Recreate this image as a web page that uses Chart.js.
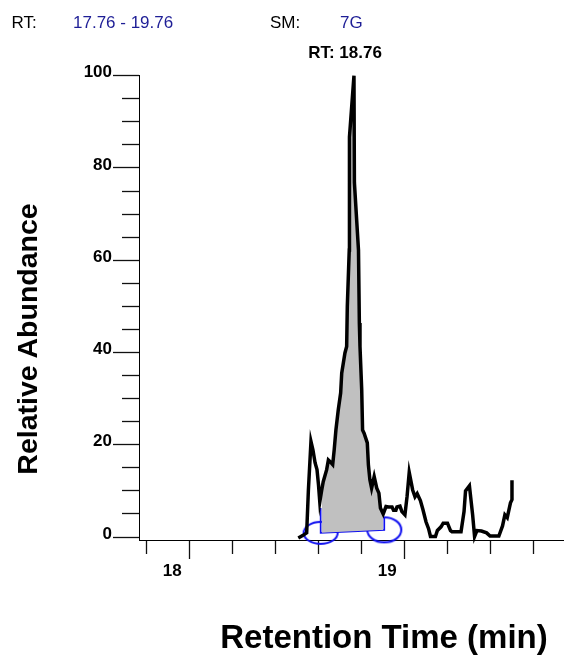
<!DOCTYPE html>
<html>
<head>
<meta charset="utf-8">
<script src="https://cdn.jsdelivr.net/npm/chart.js@4.4.1/dist/chart.umd.min.js"></script>
<style>
  html, body { margin: 0; padding: 0; background: #fff; }
  #wrap { position: relative; width: 564px; height: 659px; overflow: hidden; font-family: "Liberation Sans", Arial, sans-serif; }
  #chart { position: absolute; left: 0; top: 0; }
  .t { position: absolute; white-space: nowrap; line-height: 1; }
  .hdr { font-size: 17px; color: #000; }
  .blue { color: #1e1e96; }
</style>
</head>
<body>
<div id="wrap">
  <canvas id="chart" width="564" height="659"></canvas>
  <div class="t hdr" style="left:11.5px; top:14px;">RT:</div>
  <div class="t hdr blue" style="left:73px; top:14px;">17.76 - 19.76</div>
  <div class="t hdr" style="left:270px; top:14px;">SM:</div>
  <div class="t hdr blue" style="left:340px; top:14px;">7G</div>
  <div class="t" style="left:245px; top:44px; width:200px; text-align:center; font-size:17px; font-weight:bold;">RT: 18.76</div>
  <div class="t" style="left:-123px; top:325px; width:300px; height:28px; text-align:center; font-size:28.5px; line-height:28px; font-weight:bold; transform:rotate(-90deg);">Relative Abundance</div>
  <div class="t" style="left:184px; top:620px; width:400px; text-align:center; font-size:33px; font-weight:bold;">Retention Time (min)</div>
</div>
<script>
// ---- data ----
const times = [18.507, 18.527, 18.546, 18.554, 18.566, 18.575, 18.585, 18.594, 18.601, 18.607,
  18.616, 18.623, 18.639, 18.647, 18.654, 18.667, 18.674, 18.682, 18.693, 18.704,
  18.709, 18.724, 18.732, 18.735, 18.744, 18.745, 18.766, 18.768, 18.787, 18.791,
  18.794, 18.802, 18.806, 18.813, 18.828, 18.833, 18.840, 18.848, 18.860, 18.872,
  18.882, 18.889, 18.902, 18.915, 18.927, 18.943, 18.950, 18.961, 18.966, 18.980,
  18.989, 19.003, 19.013, 19.023, 19.039, 19.050, 19.060, 19.075, 19.087, 19.101,
  19.113, 19.122, 19.145, 19.154, 19.171, 19.181, 19.201, 19.215, 19.222, 19.264,
  19.278, 19.285, 19.303, 19.318, 19.327, 19.338, 19.359, 19.383, 19.399, 19.440,
  19.457, 19.468, 19.479, 19.494, 19.501, 19.501];
const abundance = [-0.2, 0.3, 0.9, 10.2, 20.7, 18.9, 16.1, 14.6, 11.3, 7.6,
  10.2, 12.0, 14.6, 16.7, 16.4, 15.7, 18.9, 23.2, 27.6, 31.2,
  35.5, 39.9, 41.3, 50.0, 62.2, 86.7, 100, 76.8, 62.2, 46.4,
  41.3, 31.9, 23.2, 22.5, 20.4, 15.7, 12.4, 10.6, 13.1, 10.6,
  9.5, 6.3, 5.0, 6.6, 6.5, 6.5, 5.8, 5.8, 6.5, 6.7,
  5.5, 4.8, 8.8, 14.0, 10.2, 8.7, 9.4, 7.9, 5.9, 3.3,
  1.8, 0.1, 0.1, 1.4, 2.2, 3.0, 3.0, 1.4, 1.15, 1.15,
  5.5, 10.0, 11.1, 4.8, 0.1, 1.4, 1.3, 0.9, 0.2, 0.2,
  2.4, 4.8, 4.2, 7.4, 8.1, 12.3];
// integration of the labelled peak: boundary times and baseline levels
const peakBounds = [18.611, 18.907];
const baselineLevels = [0.9, 1.55];
const boundaryTops = [6.3, 4.1];
// axis ranges / ticks
const xRange = [17.766, 19.743];
const yRange = [-0.65, 100];
const xStep = 0.2;
const yStep = 5;
const yLabelEvery = 20;

// ---- build chart ----
const trace = times.map((t, i) => ({x: t, y: abundance[i]}));
const peakArea = trace.filter(p => p.x >= peakBounds[0] && p.x <= peakBounds[1]);
const baseline = peakBounds.map((t, i) => ({x: t, y: baselineLevels[i]}));
const integLine = [
  {x: peakBounds[0], y: boundaryTops[0]},
  {x: peakBounds[0], y: baselineLevels[0]},
  {x: peakBounds[1], y: baselineLevels[1]},
  {x: peakBounds[1], y: boundaryTops[1]}
];

function ellipseCanvas(rx, ry, color, lw) {
  const c = document.createElement('canvas');
  c.width = Math.ceil(rx * 2 + lw * 2 + 2);
  c.height = Math.ceil(ry * 2 + lw * 2 + 2);
  const g = c.getContext('2d');
  g.strokeStyle = color;
  g.lineWidth = lw;
  g.beginPath();
  g.ellipse(c.width / 2, c.height / 2, rx, ry, 0, 0, Math.PI * 2);
  g.stroke();
  return c;
}
const blue = '#1010f0';
const ellStyles = [ellipseCanvas(17, 11, blue, 2), ellipseCanvas(17, 12.5, blue, 2)];

const isMultiple = (v, m) => Math.abs(v / m - Math.round(v / m)) < 1e-6;
const noPad = s => { s.paddingLeft = 0; s.paddingRight = 0; s.paddingTop = 0; s.paddingBottom = 0; };

Chart.defaults.font.family = '"Liberation Sans", Arial, sans-serif';

new Chart(document.getElementById('chart'), {
  type: 'line',
  data: {
    datasets: [
      { data: trace, borderColor: '#000', borderWidth: 3.5, pointRadius: 0, fill: false, tension: 0, borderJoinStyle: 'miter', clip: false },
      { data: peakArea, borderWidth: 0, borderColor: 'rgba(0,0,0,0)', backgroundColor: '#c0c0c0', pointRadius: 0, fill: {target: 2}, tension: 0 },
      { data: baseline, borderWidth: 0, borderColor: 'rgba(0,0,0,0)', pointRadius: 0, fill: false },
      { data: integLine, borderColor: blue, borderWidth: 1.7, pointRadius: 0, fill: false, tension: 0 },
      { data: baseline, showLine: false, pointStyle: ellStyles, pointRadius: 1, pointHoverRadius: 1, fill: false, clip: false }
    ]
  },
  options: {
    responsive: false,
    animation: false,
    events: [],
    layout: { autoPadding: false, padding: { top: 75.7, left: 0, right: 0, bottom: 0 } },
    plugins: { legend: { display: false }, tooltip: { enabled: false }, title: { display: false } },
    scales: {
      x: {
        type: 'linear',
        position: 'bottom',
        min: xRange[0],
        max: xRange[1],
        afterFit: s => { s.height = 119; noPad(s); },
        border: { display: true, color: '#000', width: 1 },
        grid: {
          drawOnChartArea: false,
          drawTicks: true,
          tickLength: 19,
          tickColor: '#111',
          tickWidth: 1.3,
          tickBorderDash: ctx => (ctx.tick && isMultiple(ctx.tick.value, 1)) ? [] : [13, 100]
        },
        ticks: {
          stepSize: xStep,
          includeBounds: false,
          autoSkip: false,
          maxRotation: 0,
          minRotation: 0,
          padding: 2,
          labelOffset: -17,
          color: '#000',
          font: { size: 17, weight: 'bold' },
          callback: v => isMultiple(v, 1) ? String(Math.round(v)) : ''
        }
      },
      y: {
        type: 'linear',
        position: 'left',
        min: yRange[0],
        max: yRange[1],
        afterFit: s => { s.width = 139; noPad(s); },
        border: { display: true, color: '#000', width: 1 },
        grid: {
          drawOnChartArea: false,
          drawTicks: true,
          tickLength: 26,
          tickColor: '#111',
          tickWidth: 1.3,
          tickBorderDash: ctx => (ctx.tick && isMultiple(ctx.tick.value, yLabelEvery)) ? [] : [17, 9],
          tickBorderDashOffset: ctx => (ctx.tick && isMultiple(ctx.tick.value, yLabelEvery)) ? 0 : 17
        },
        ticks: {
          stepSize: yStep,
          includeBounds: false,
          autoSkip: false,
          padding: 1,
          labelOffset: -3,
          color: '#000',
          font: { size: 17, weight: 'bold' },
          callback: v => isMultiple(v, yLabelEvery) ? String(Math.round(v)) : ''
        }
      }
    }
  }
});
</script>
</body>
</html>
